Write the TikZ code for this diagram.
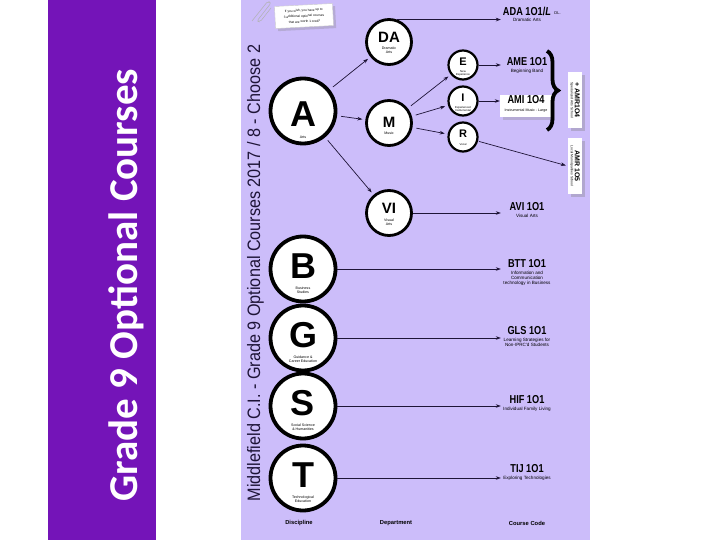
\documentclass[tikz,border=0pt]{standalone}
\usepackage{fontspec}
\usepackage{graphicx}
\setmainfont{Liberation Sans}
\newfontfamily\titlefont{Carlito}
\usetikzlibrary{positioning,arrows.meta,shadows,decorations.pathreplacing}
\definecolor{barpurple}{RGB}{116,20,184}
\definecolor{panel}{RGB}{204,189,250}
\definecolor{ink}{RGB}{30,20,55}
\newcommand{\ccode}[1]{\scalebox{0.8}[1]{\bfseries\fontsize{11.5}{11.5}\selectfont #1}}

\begin{document}
\begin{tikzpicture}[x=1pt, y=-1pt,
  conn/.style={-{Stealth[length=5pt, width=3.6pt]}, line width=0.7pt, draw=ink},
  bigdisc/.style={circle, draw=black, line width=3.8pt, fill=white, minimum size=65pt, inner sep=0pt,
    circular drop shadow={shadow xshift=0.6pt, shadow yshift=-0.6pt, opacity=0.45, shadow scale=1.04}},
  middisc/.style={bigdisc, line width=2.8pt, minimum size=45pt},
  smalldisc/.style={bigdisc, line width=2.2pt, minimum size=29pt},
  bigletter/.style={font=\bfseries\fontsize{36}{36}\selectfont, inner sep=0pt},
  midletter/.style={font=\bfseries\fontsize{15}{15}\selectfont, inner sep=0pt},
  smallletter/.style={font=\bfseries\fontsize{11}{11}\selectfont, inner sep=0pt},
  circsub/.style={font=\fontsize{3.6}{4.1}\selectfont, align=center, inner sep=0pt},
  smallsub/.style={font=\fontsize{2.8}{3.2}\selectfont, align=center, inner sep=0pt},
  code/.style={inner sep=0pt, minimum width=52pt, minimum height=9pt},
  coursesub/.style={font=\fontsize{4.6}{5.2}\selectfont, align=center, inner sep=0pt},
  amrbox/.style={rotate=-90, fill=white, minimum width=56pt, minimum height=14pt, inner sep=0.5pt,
    align=center, font=\fontsize{3.4}{4}\selectfont, drop shadow={opacity=0.35}},
  foot/.style={font=\bfseries\fontsize{5.8}{5.8}\selectfont, inner sep=0pt}]
\useasboundingbox (0,0) rectangle (720,540);
\fill[white] (0,0) rectangle (720,540);
% title bar
\fill[barpurple] (48,0) rectangle (156,540);
\node[rotate=90, anchor=base, text=white, inner sep=0pt] (title) at (137,285)
  {\titlefont\bfseries\fontsize{41}{41}\selectfont Grade 9 Optional Courses};
% poster
\fill[panel] (241,0) rectangle (590,540);
\node[rotate=90, anchor=base, inner sep=0pt, text=ink] (poster) at (260,273)
  {\scalebox{0.9}[1]{\fontsize{18}{18}\selectfont Middlefield C.I. - Grade 9 Optional Courses 2017 / 8 - Choose 2}};
% note with paper clip
\node[rotate=3, fill=white, draw=gray!40, minimum width=58pt, minimum height=22pt, inner sep=1.5pt, align=center,
  font=\fontsize{3.2}{5.6}\selectfont, drop shadow={opacity=0.3}] (note) at (304,16)
  {If you wish, you have up to\\3 additional optional courses\\that are worth 1 credit};
\draw[gray!60, line width=0.5pt, rounded corners=2pt] (252,21) -- (268,1) -- (271,3) -- (257,21) -- (260,22) -- (271,8);

% disciplines
\node[bigdisc] (A) at (303,111) {};
\node[bigletter] at ([yshift=-3pt]A.center) {A};
\node[circsub] at ([yshift=-26pt]A.center) {Arts};
\foreach \n/\y/\desc in {B/269/{Business\\Studies}, G/338/{Guidance \&\\Career Education},
    S/406/{Social Science\\\& Humanities}, T/478/{Technological\\Education}}{
  \node[bigdisc] (\n) at (303,\y) {};
  \node[bigletter] at ([yshift=3pt]\n.center) {\n};
  \node[circsub] at ([yshift=-21pt]\n.center) {\desc};
}

% departments
\node[middisc] (DA) at (389,42) {};
\node[midletter] at ([yshift=5pt]DA.center) {DA};
\node[circsub] at ([yshift=-8pt]DA.center) {Dramatic\\Arts};
\node[middisc] (M) at (389,123) {};
\node[midletter] at ([yshift=1pt]M.center) {M};
\node[circsub] at ([yshift=-10pt]M.center) {Music};
\node[middisc] (VI) at (389,213) {};
\node[midletter] at ([yshift=5pt]VI.center) {VI};
\node[circsub] at ([yshift=-9pt]VI.center) {Visual\\Arts};
\foreach \n/\y/\desc in {E/65/{New\\Experience}, I/101/{Experienced\\Instrumental}, R/137/{Vocal}}{
  \node[smalldisc] (\n) at (463,\y) {};
  \node[smallletter] at ([yshift=3pt]\n.center) {\n};
  \node[smallsub] at ([yshift=-8pt]\n.center) {\desc};
}
\foreach \a/\b in {A/DA, A/M, A/VI, M/E, M/I, M/R}
  \draw[conn, shorten <=4pt, shorten >=3pt] (\a) -- (\b);

% course codes
\node[code] (cADA) at (527,11) {\ccode{ADA 1O1/\textit{L}}};
\node[coursesub, below=2pt of cADA] {Dramatic Arts};
\node[font=\fontsize{4}{4}\selectfont, inner sep=0pt, anchor=west] (dl) at ([xshift=1pt,yshift=-2pt]cADA.east) {DL.};
\draw[conn] (DA.70) -- (DA.70 -| cADA.west);

\node[code] (cAME) at (527,62) {\ccode{AME 1O1}};
\node[coursesub, below=2pt of cAME] {Beginning Band};
\draw[conn] (E.east) -- (E.east -| cAME.west);

\node[fill=white, minimum width=52pt, minimum height=22pt, inner sep=0pt, drop shadow={opacity=0.3}] (cAMI) at (526,106) {};
\node[code] at (526,100) {\ccode{AMI 1O4}};
\node[coursesub, font=\fontsize{3.6}{4}\selectfont] at (526,111) {Instrumental Music - Large};
\draw[conn] (I.east) -- (I.east -| cAMI.west);

\draw[decorate, decoration={brace, amplitude=11pt}, line width=3.8pt] (547,51) -- (547,130);
\node[amrbox] (amr4) at (575,100) {{\bfseries\fontsize{7}{8}\selectfont + AMR1O4}\\Specialized Arts School};
\node[amrbox] (amr5) at (575,166) {{\bfseries\fontsize{7}{8}\selectfont AMR 1O5}\\Local Municipalities School};
\draw[conn, shorten <=1pt, shorten >=2pt] (R) -- (amr5.south);

\node[code] (cAVI) at (527,207) {\ccode{AVI 1O1}};
\node[coursesub, below=2pt of cAVI] {Visual Arts};
\draw[conn] (VI.east) -- (VI.east -| cAVI.west);

\foreach \n/\y/\cc/\desc in {B/264/BTT 1O1/{Information and\\Communication\\technology in Business},
    G/331/GLS 1O1/{Learning Strategies for\\Non-IPRC'd Students}, S/400/HIF 1O1/{Individual Family Living},
    T/469/TIJ 1O1/{Exploring Technologies}}{
  \node[code] (c\n) at (527,\y) {\ccode{\cc}};
  \node[coursesub, below=2pt of c\n] {\desc};
  \draw[conn] (\n.east) -- (\n.east -| c\n.west);
}

% column heads
\node[foot] (discipline) at (299,523) {Discipline};
\node[foot] (department) at (396,523) {Department};
\node[foot] (coursecode) at (527,523) {Course Code};
\end{tikzpicture}
\end{document}
